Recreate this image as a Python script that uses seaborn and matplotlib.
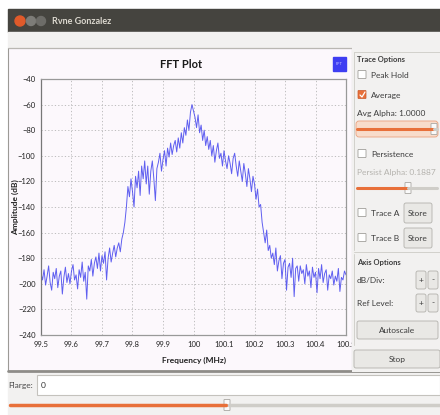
"""
FFT plot window (GNU Radio style) recreated with seaborn + matplotlib
"""

import numpy as np
import pandas as pd
import matplotlib
matplotlib.use("Agg")
import matplotlib.pyplot as plt
import seaborn as sns
from matplotlib.patches import Rectangle, FancyBboxPatch, Circle

# Data: one amplitude value (dB) per 5 kHz bin, 99.5 -> 100.5 MHz
amplitude_db = [
    -192, -197, -189, -201, -194, -186, -199, -205, -191, -196,
    -188, -203, -194, -190, -208, -195, -187, -199, -192, -200,
    -190, -185, -197, -193, -204, -189, -195, -183, -198, -191,
    -212, -186, -190, -181, -194, -184, -179, -188, -176, -190,
    -178, -184, -175, -197, -180, -172, -183, -176, -170, -179,
    -172, -168, -175, -165, -160, -152, -140, -124, -132, -118,
    -128, -140, -116, -125, -112, -131, -108, -118, -104, -122,
    -108, -130, -112, -104, -118, -135, -110, -105, -98, -112,
    -103, -96, -108, -94, -101, -90, -99, -92, -88, -97,
    -86, -94, -82, -90, -78, -84, -72, -80, -66, -60,
    -65, -70, -78, -68, -82, -76, -88, -80, -92, -85,
    -95, -88, -100, -92, -105, -96, -90, -102, -98, -108,
    -96, -104, -110, -100, -106, -114, -102, -98, -108, -116,
    -104, -112, -120, -106, -114, -124, -110, -118, -128, -116,
    -122, -134, -126, -140, -138, -152, -160, -168, -158, -174,
    -170, -180, -176, -185, -172, -190, -182, -178, -196, -184,
    -181, -205, -187, -184, -195, -180, -210, -188, -186, -198,
    -186, -192, -189, -200, -185, -194, -190, -203, -187, -195,
    -191, -207, -188, -196, -185, -199, -192, -189, -205, -193,
    -196, -190, -201, -194, -198, -188, -206, -195, -197, -190,
    -193,
]
freq_start, freq_stop = 99.5, 100.5
x_ticks = [99.5, 99.6, 99.7, 99.8, 99.9, 100.0, 100.1, 100.2, 100.3, 100.4, 100.5]
x_tick_labels = ["99.5", "99.6", "99.7", "99.8", "99.9", "100", "100.1",
                 "100.2", "100.3", "100.4", "100.5"]
y_ticks = [-240, -220, -200, -180, -160, -140, -120, -100, -80, -60, -40]

df = pd.DataFrame({
    "freq": np.linspace(freq_start, freq_stop, len(amplitude_db)),
    "amp": amplitude_db,
})

sns.set_style("white")
plt.rcParams['font.family'] = ['Lato', 'DejaVu Sans']

W, H = 440, 415
fig = plt.figure(figsize=(W / 100, H / 100), dpi=100)
fig.patch.set_facecolor("white")

# background axes in pixel coordinates (window chrome)
bg = fig.add_axes([0, 0, 1, 1], zorder=0)
bg.set_xlim(0, W)
bg.set_ylim(H, 0)
bg.axis("off")

PANEL = "#f2f1f0"
PLOT_BG = "#fcf8fc"
ORANGE = "#e8703a"

# title bar
bg.add_patch(Rectangle((8, 9), W - 8, 23, color="#45443f"))
bg.add_patch(Circle((20, 21), 5, color="#e05a2a"))
bg.add_patch(Circle((31, 21), 4.5, color="#7d7c78"))
bg.add_patch(Circle((41, 21), 4.5, color="#6d6c68"))
bg.text(52, 21, "Rvne Gonzalez", color="#dcd8cf", fontsize=6.5,
        fontweight="bold", va="center", ha="left")
# toolbar strip
bg.add_patch(Rectangle((8, 32), W - 8, 16, color=PANEL))
bg.plot([8, W], [48, 48], color="#b9b7b2", lw=0.8)
# plot panel
bg.add_patch(Rectangle((8, 48), 344, 323, facecolor=PLOT_BG,
                       edgecolor="#9c9a96", lw=0.8))
bg.plot([8, W], [371, 371], color="#8e8c88", lw=2)
bg.text(181, 64, "FFT Plot", fontsize=8, fontweight="bold", ha="center",
        va="center", color="#1a1a1a")
bg.add_patch(Rectangle((333, 57), 13, 14, color="#3e3ef2"))
bg.text(339.5, 64, "FFT", fontsize=3, ha="center", va="center", color="#c8c8ff")

# bottom strip with entry and slider
bg.add_patch(Rectangle((8, 373), W - 8, H - 373, color=PANEL))
bg.add_patch(Rectangle((37, 375), W - 37, 20, facecolor="white",
                       edgecolor="#c4c2bd", lw=0.8))
bg.text(8, 385, "Flarge:", fontsize=6, va="center", ha="left", color="#4a4a4a")
bg.text(41, 385, "0", fontsize=6, va="center", ha="left", color="#333333")
bg.plot([10, 226], [405, 405], color=ORANGE, lw=2.5, solid_capstyle="round")
bg.plot([229, W], [405, 405], color="#cfcdc8", lw=2.5)
bg.add_patch(FancyBboxPatch((224.5, 400), 5, 10, boxstyle="round,pad=0.5",
                            facecolor="#fafafa", edgecolor="#a9a7a2", lw=0.6))

# main FFT axes
left, top, right, bottom = 41, 79, 346, 335
ax = fig.add_axes([left / W, 1 - bottom / H, (right - left) / W, (bottom - top) / H],
                  zorder=2)
ax.set_facecolor(PLOT_BG)
sns.lineplot(data=df, x="freq", y="amp", ax=ax, color="#4444ee",
             linewidth=0.7, alpha=0.85)
ax.set_xlim(freq_start, freq_stop)
ax.set_ylim(-240, -40)
ax.set_xticks(x_ticks)
ax.set_xticklabels(x_tick_labels)
ax.set_yticks(y_ticks)
ax.tick_params(axis="both", labelsize=5.5, length=2, width=0.5,
               color="#888888", labelcolor="#222222", pad=2)
ax.grid(True, color="#b5b5b5", linestyle=(0, (1.5, 2.5)), linewidth=0.6)
for side, sp in ax.spines.items():
    sp.set_color("#999999")
    sp.set_linewidth(0.9)
ax.spines["left"].set_color("#777777")
ax.set_xlabel("Frequency (MHz)", fontsize=6, fontweight="bold", color="#222222")
ax.set_ylabel("Amplitude (dB)", fontsize=6, fontweight="bold", color="#222222")
ax.xaxis.set_label_coords(0.5, -(357 - bottom) / (bottom - top))
ax.yaxis.set_label_coords(-(left - 19) / (right - left), 0.5)

# right side control panel (drawn above main axes to clip the last tick label)
pn = fig.add_axes([352 / W, 1 - 372 / H, (W - 352) / W, (372 - 32) / H], zorder=3)
pn.set_xlim(352, W)
pn.set_ylim(372, 32)
pn.axis("off")
pn.add_patch(Rectangle((352, 32), W - 352, 340, color=PANEL))
pn.plot([354, W], [52, 52], color="#d2d0cb", lw=0.7)
pn.plot([354, 354], [52, 250], color="#d2d0cb", lw=0.7)
pn.plot([354, W], [252, 252], color="#d2d0cb", lw=0.7)
pn.plot([354, 354], [254, 345], color="#d2d0cb", lw=0.7)

FS = 6
pn.text(357, 59, "Trace Options", fontsize=5.5, fontweight="bold",
        va="center", color="#3c3c3c")


def checkbox(y, label, checked=False, color="#3c3c3c"):
    if checked:
        pn.add_patch(FancyBboxPatch((358.5, y - 4), 7, 7, boxstyle="round,pad=0.5",
                                    facecolor=ORANGE, edgecolor="#c9582a", lw=0.5))
        pn.plot([360, 362, 365], [y, y + 2, y - 3], color="white", lw=0.9)
    else:
        pn.add_patch(FancyBboxPatch((358.5, y - 4), 7, 7, boxstyle="round,pad=0.5",
                                    facecolor="white", edgecolor="#8f8d88", lw=0.5))
    pn.text(371, y, label, fontsize=FS, va="center", ha="left", color=color)


def button(x, y, w, h, label):
    pn.add_patch(FancyBboxPatch((x, y), w, h, boxstyle="round,pad=0,rounding_size=2",
                                facecolor="#e9e8e5", edgecolor="#b3b1ac", lw=0.6))
    pn.text(x + w / 2, y + h / 2, label, fontsize=FS, ha="center", va="center",
            color="#3c3c3c")


def slider(y, x_knob, x0=357, x1=437):
    pn.plot([x0, x_knob], [y, y], color=ORANGE, lw=2.2, solid_capstyle="round")
    pn.plot([x_knob, x1], [y, y], color="#cfcdc8", lw=2.2)
    pn.add_patch(FancyBboxPatch((x_knob - 2.5, y - 5), 5, 10, boxstyle="round,pad=0.5",
                                facecolor="#fafafa", edgecolor="#a9a7a2", lw=0.6))


checkbox(75, "Peak Hold")
checkbox(95, "Average", checked=True)
pn.text(357, 113, "Avg Alpha: 1.0000", fontsize=FS, va="center", color="#3c3c3c")
pn.add_patch(FancyBboxPatch((356, 121), 82, 16, boxstyle="round,pad=0,rounding_size=3",
                            facecolor="#f8dccb", edgecolor="#eaa27f", lw=0.6))
slider(129, 434)
checkbox(154, "Persistence")
pn.text(357, 172, "Persist Alpha: 0.1887", fontsize=FS, va="center", color="#b5b3ae")
slider(188, 408)
checkbox(213, "Trace A")
button(404, 203, 28, 20, "Store")
checkbox(238, "Trace B")
button(404, 228, 28, 20, "Store")
pn.text(357, 262, "Axis Options", fontsize=5.5, fontweight="bold",
        va="center", color="#3c3c3c")
pn.text(357, 280, "dB/Div:", fontsize=FS, va="center", color="#3c3c3c")
button(416, 271, 10, 18, "+")
button(428, 271, 10, 18, "-")
pn.text(357, 303, "Ref Level:", fontsize=FS, va="center", color="#3c3c3c")
button(416, 294, 10, 18, "+")
button(428, 294, 10, 18, "-")
button(357, 321, 81, 18, "Autoscale")
button(354, 350, 86, 18, "Stop")

fig.savefig("out.png", dpi=100)
